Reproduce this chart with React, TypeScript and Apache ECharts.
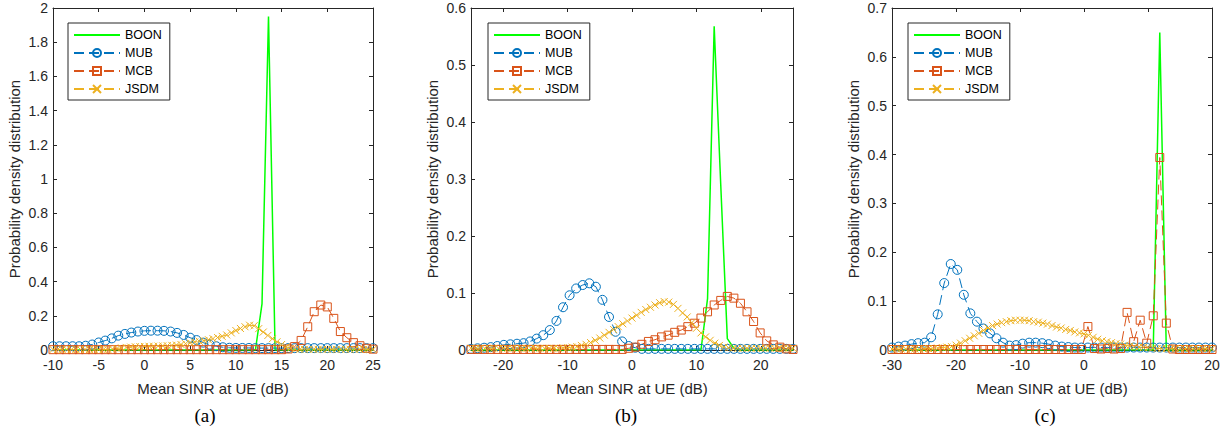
import React, { useEffect, useRef } from "react";
import * as echarts from "echarts";

// ---------- x sample grids ----------
const xA = [-10, -9.29, -8.57, -7.86, -7.14, -6.43, -5.71, -5, -4.29, -3.57, -2.86, -2.14, -1.43, -0.71, 0, 0.71, 1.43, 2.14, 2.86, 3.57, 4.29, 5, 5.71, 6.43, 7.14, 7.86, 8.57, 9.29, 10, 10.71, 11.43, 12.14, 12.86, 13.57, 14.29, 15, 15.71, 16.43, 17.14, 17.86, 18.57, 19.29, 20, 20.71, 21.43, 22.14, 22.86, 23.57, 24.29, 25];
const xA71 = [-10, -9.5, -9, -8.5, -8, -7.5, -7, -6.5, -6, -5.5, -5, -4.5, -4, -3.5, -3, -2.5, -2, -1.5, -1, -0.5, 0, 0.5, 1, 1.5, 2, 2.5, 3, 3.5, 4, 4.5, 5, 5.5, 6, 6.5, 7, 7.5, 8, 8.5, 9, 9.5, 10, 10.5, 11, 11.5, 12, 12.5, 13, 13.5, 14, 14.5, 15, 15.5, 16, 16.5, 17, 17.5, 18, 18.5, 19, 19.5, 20, 20.5, 21, 21.5, 22, 22.5, 23, 23.5, 24, 24.5, 25];
const xB = [-25, -23.98, -22.96, -21.94, -20.92, -19.9, -18.88, -17.86, -16.84, -15.82, -14.8, -13.78, -12.76, -11.73, -10.71, -9.69, -8.67, -7.65, -6.63, -5.61, -4.59, -3.57, -2.55, -1.53, -0.51, 0.51, 1.53, 2.55, 3.57, 4.59, 5.61, 6.63, 7.65, 8.67, 9.69, 10.71, 11.73, 12.76, 13.78, 14.8, 15.82, 16.84, 17.86, 18.88, 19.9, 20.92, 21.94, 22.96, 23.98, 25];
const xB71 = [-25, -24.29, -23.57, -22.86, -22.14, -21.43, -20.71, -20, -19.29, -18.57, -17.86, -17.14, -16.43, -15.71, -15, -14.29, -13.57, -12.86, -12.14, -11.43, -10.71, -10, -9.29, -8.57, -7.86, -7.14, -6.43, -5.71, -5, -4.29, -3.57, -2.86, -2.14, -1.43, -0.71, 0, 0.71, 1.43, 2.14, 2.86, 3.57, 4.29, 5, 5.71, 6.43, 7.14, 7.86, 8.57, 9.29, 10, 10.71, 11.43, 12.14, 12.86, 13.57, 14.29, 15, 15.71, 16.43, 17.14, 17.86, 18.57, 19.29, 20, 20.71, 21.43, 22.14, 22.86, 23.57, 24.29, 25];
const xC = [-30, -28.98, -27.96, -26.94, -25.92, -24.9, -23.88, -22.86, -21.84, -20.82, -19.8, -18.78, -17.76, -16.73, -15.71, -14.69, -13.67, -12.65, -11.63, -10.61, -9.59, -8.57, -7.55, -6.53, -5.51, -4.49, -3.47, -2.45, -1.43, -0.41, 0.61, 1.63, 2.65, 3.67, 4.69, 5.71, 6.73, 7.76, 8.78, 9.8, 10.82, 11.84, 12.86, 13.88, 14.9, 15.92, 16.94, 17.96, 18.98, 20];
const xC71 = [-30, -29.29, -28.57, -27.86, -27.14, -26.43, -25.71, -25, -24.29, -23.57, -22.86, -22.14, -21.43, -20.71, -20, -19.29, -18.57, -17.86, -17.14, -16.43, -15.71, -15, -14.29, -13.57, -12.86, -12.14, -11.43, -10.71, -10, -9.29, -8.57, -7.86, -7.14, -6.43, -5.71, -5, -4.29, -3.57, -2.86, -2.14, -1.43, -0.71, 0, 0.71, 1.43, 2.14, 2.86, 3.57, 4.29, 5, 5.71, 6.43, 7.14, 7.86, 8.57, 9.29, 10, 10.71, 11.43, 12.14, 12.86, 13.57, 14.29, 15, 15.71, 16.43, 17.14, 17.86, 18.57, 19.29, 20];

// ---------- panel (a) ----------
const boonA = [0, 0, 0, 0, 0, 0, 0, 0, 0, 0, 0, 0, 0, 0, 0, 0, 0, 0, 0, 0, 0, 0, 0, 0, 0, 0, 0, 0, 0, 0, 0, 0, 0.27, 1.95, 0, 0, 0, 0, 0, 0, 0, 0, 0, 0, 0, 0, 0, 0, 0, 0];
const mubA = [0.022, 0.022, 0.022, 0.022, 0.022, 0.025, 0.032, 0.044, 0.055, 0.068, 0.084, 0.094, 0.102, 0.108, 0.112, 0.113, 0.113, 0.112, 0.108, 0.1, 0.088, 0.072, 0.058, 0.043, 0.031, 0.022, 0.016, 0.013, 0.012, 0.012, 0.012, 0.011, 0.011, 0.011, 0.011, 0.011, 0.011, 0.011, 0.011, 0.011, 0.011, 0.011, 0.011, 0.011, 0.011, 0.011, 0.011, 0.011, 0.011, 0.011];
const mcbA = [0.002, 0.002, 0.002, 0.002, 0.002, 0.002, 0.002, 0.002, 0.002, 0.002, 0.002, 0.002, 0.002, 0.002, 0.002, 0.002, 0.002, 0.002, 0.002, 0.002, 0.002, 0.002, 0.002, 0.002, 0.002, 0.002, 0.002, 0.002, 0.002, 0.002, 0.002, 0.002, 0.002, 0.002, 0.002, 0.002, 0.006, 0.02, 0.056, 0.136, 0.224, 0.263, 0.252, 0.185, 0.108, 0.072, 0.043, 0.025, 0.01, 0.005];
const jsdmA = [0.003, 0.003, 0.003, 0.003, 0.003, 0.003, 0.003, 0.003, 0.003, 0.003, 0.003, 0.003, 0.003, 0.006, 0.009, 0.012, 0.015, 0.017, 0.019, 0.02, 0.021, 0.022, 0.022, 0.023, 0.024, 0.025, 0.027, 0.029, 0.032, 0.037, 0.042, 0.047, 0.051, 0.055, 0.06, 0.066, 0.073, 0.08, 0.088, 0.1, 0.114, 0.126, 0.136, 0.145, 0.142, 0.125, 0.105, 0.085, 0.066, 0.048, 0.032, 0.019, 0.011, 0.006, 0.004, 0.004, 0.004, 0.004, 0.004, 0.004, 0.004, 0.004, 0.004, 0.004, 0.004, 0.004, 0.004, 0.004, 0.004, 0.004, 0.004];

// ---------- panel (b) ----------
const boonB = [0, 0, 0, 0, 0, 0, 0, 0, 0, 0, 0, 0, 0, 0, 0, 0, 0, 0, 0, 0, 0, 0, 0, 0, 0, 0, 0, 0, 0, 0, 0, 0, 0, 0, 0, 0, 0.09, 0.568, 0.29, 0.02, 0.003, 0, 0, 0, 0, 0, 0, 0, 0, 0];
const mubB = [0.002, 0.003, 0.004, 0.005, 0.007, 0.009, 0.01, 0.011, 0.012, 0.015, 0.02, 0.026, 0.035, 0.051, 0.075, 0.096, 0.108, 0.114, 0.117, 0.111, 0.088, 0.058, 0.032, 0.015, 0.007, 0.004, 0.002, 0.002, 0.002, 0.002, 0.002, 0.002, 0.002, 0.002, 0.002, 0.002, 0.002, 0.002, 0.002, 0.002, 0.002, 0.002, 0.002, 0.002, 0.002, 0.002, 0.002, 0.002, 0.002, 0.002];
const mcbB = [0.001, 0.001, 0.001, 0.001, 0.001, 0.001, 0.001, 0.001, 0.001, 0.001, 0.001, 0.001, 0.001, 0.001, 0.001, 0.001, 0.001, 0.001, 0.001, 0.001, 0.001, 0.001, 0.001, 0.001, 0.003, 0.005, 0.01, 0.015, 0.018, 0.023, 0.026, 0.031, 0.035, 0.041, 0.047, 0.056, 0.067, 0.079, 0.087, 0.094, 0.091, 0.082, 0.067, 0.05, 0.03, 0.016, 0.009, 0.005, 0.002, 0.001];
const jsdmB = [0.003, 0.003, 0.003, 0.003, 0.003, 0.003, 0.003, 0.003, 0.003, 0.003, 0.003, 0.003, 0.003, 0.003, 0.003, 0.003, 0.003, 0.003, 0.003, 0.003, 0.004, 0.004, 0.005, 0.006, 0.008, 0.01, 0.013, 0.017, 0.021, 0.026, 0.031, 0.036, 0.041, 0.046, 0.051, 0.056, 0.061, 0.066, 0.071, 0.075, 0.079, 0.083, 0.085, 0.084, 0.08, 0.073, 0.065, 0.058, 0.048, 0.038, 0.03, 0.023, 0.017, 0.012, 0.008, 0.005, 0.004, 0.003, 0.003, 0.003, 0.003, 0.003, 0.003, 0.003, 0.003, 0.003, 0.003, 0.003, 0.003, 0.003, 0.003];

// ---------- panel (c) ----------
const boonC = [0, 0, 0, 0, 0, 0, 0, 0, 0, 0, 0, 0, 0, 0, 0, 0, 0, 0, 0, 0, 0, 0, 0, 0, 0, 0, 0, 0, 0, 0, 0, 0, 0, 0, 0, 0, 0, 0, 0, 0, 0, 0.65, 0, 0, 0, 0, 0, 0, 0, 0];
const mubC = [0.005, 0.007, 0.009, 0.012, 0.014, 0.015, 0.026, 0.073, 0.137, 0.176, 0.164, 0.113, 0.075, 0.058, 0.044, 0.034, 0.024, 0.015, 0.009, 0.01, 0.013, 0.015, 0.015, 0.014, 0.012, 0.009, 0.007, 0.006, 0.005, 0.005, 0.005, 0.005, 0.005, 0.005, 0.005, 0.005, 0.005, 0.005, 0.005, 0.005, 0.005, 0.005, 0.005, 0.005, 0.005, 0.005, 0.005, 0.005, 0.005, 0.005];
const mcbC = [0.001, 0.001, 0.001, 0.001, 0.001, 0.001, 0.001, 0.001, 0.001, 0.001, 0.001, 0.001, 0.001, 0.001, 0.001, 0.001, 0.001, 0.001, 0.001, 0.001, 0.001, 0.001, 0.001, 0.001, 0.001, 0.001, 0.001, 0.001, 0.001, 0.001, 0.048, 0.003, 0.002, 0.003, 0.002, 0.003, 0.077, 0.017, 0.061, 0.014, 0.07, 0.394, 0.055, 0.002, 0.001, 0.001, 0.001, 0.001, 0.001, 0.001];
const jsdmC = [0.002, 0.002, 0.002, 0.002, 0.002, 0.002, 0.002, 0.003, 0.003, 0.003, 0.004, 0.005, 0.006, 0.007, 0.01, 0.014, 0.019, 0.024, 0.029, 0.034, 0.04, 0.045, 0.05, 0.053, 0.056, 0.058, 0.06, 0.061, 0.061, 0.061, 0.06, 0.058, 0.057, 0.055, 0.053, 0.05, 0.047, 0.045, 0.042, 0.04, 0.037, 0.035, 0.033, 0.03, 0.026, 0.022, 0.019, 0.017, 0.015, 0.013, 0.012, 0.01, 0.008, 0.007, 0.006, 0.005, 0.005, 0.004, 0.003, 0.003, 0.003, 0.003, 0.003, 0.003, 0.003, 0.003, 0.003, 0.003, 0.003, 0.003, 0.003];

// ---------- ticks / labels ----------
const xTicksA = [-10, -5, 0, 5, 10, 15, 20, 25];
const xTicksB = [-20, -10, 0, 10, 20];
const xTicksC = [-30, -20, -10, 0, 10, 20];
const seriesNames = ["BOON", "MUB", "MCB", "JSDM"];
const captions = ["(a)", "(b)", "(c)"];
const xTitle = "Mean SINR at UE (dB)";
const yTitle = "Probability density distribution";

const COLORS: Record<string, string> = {
  BOON: "#00ff00",
  MUB: "#0072bd",
  MCB: "#d95319",
  JSDM: "#edb120",
};
const CIRCLE = "path://M5,0A5,5,0,1,1,5,10A5,5,0,1,1,5,0Z";
const SQUARE = "path://M0,0L10,0L10,10L0,10Z";
const CROSS = "path://M0,0L10,10M10,0L0,10";
const FONT = '"Liberation Sans", Arial, Helvetica, sans-serif';
const AXIS_COLOR = "#262626";

const pairs = (xs: number[], ys: number[]) => xs.map((x, i) => [x, ys[i]]);

const panels = [
  {
    left: 53, width: 320, xMin: -10, xMax: 25, xTicks: xTicksA, yMax: 2, yInterval: 0.2,
    legendLeft: 68, capX: 205, nameGapY: 31,
    boon: [xA, boonA], mub: [xA, mubA], mcb: [xA, mcbA], jsdm: [xA71, jsdmA],
  },
  {
    left: 471, width: 322, xMin: -25, xMax: 25, xTicks: xTicksB, yMax: 0.6, yInterval: 0.1,
    legendLeft: 488, capX: 626, nameGapY: 31,
    boon: [xB, boonB], mub: [xB, mubB], mcb: [xB, mcbB], jsdm: [xB71, jsdmB],
  },
  {
    left: 892, width: 320, xMin: -30, xMax: 20, xTicks: xTicksC, yMax: 0.7, yInterval: 0.1,
    legendLeft: 908, capX: 1045, nameGapY: 31,
    boon: [xC, boonC], mub: [xC, mubC], mcb: [xC, mcbC], jsdm: [xC71, jsdmC],
  },
];

function buildOption() {
  const grid: any[] = [];
  const xAxis: any[] = [];
  const yAxis: any[] = [];
  const lines: any[] = [];
  const marks: any[] = [];
  const legend: any[] = [];
  const graphic: any[] = [];
  const lineStyle = { color: AXIS_COLOR, width: 1 };

  panels.forEach((p, i) => {
    grid.push({ left: p.left, top: 8, width: p.width, height: 342 });
    xAxis.push({
      gridIndex: i, type: "value", position: "bottom", min: p.xMin, max: p.xMax,
      axisLine: { show: true, onZero: false, lineStyle },
      axisTick: { show: true, inside: true, length: 4, customValues: p.xTicks, lineStyle },
      axisLabel: { customValues: p.xTicks, margin: 8, color: AXIS_COLOR, fontSize: 14, fontFamily: FONT },
      splitLine: { show: false },
      name: xTitle, nameLocation: "middle", nameGap: 31,
      nameTextStyle: { fontSize: 15, fontFamily: FONT, color: AXIS_COLOR },
    });
    xAxis.push({
      gridIndex: i, type: "value", position: "top", min: p.xMin, max: p.xMax,
      axisLine: { show: true, onZero: false, lineStyle },
      axisTick: { show: true, inside: true, length: 4, customValues: p.xTicks, lineStyle },
      axisLabel: { show: false, customValues: p.xTicks },
      splitLine: { show: false },
    });
    yAxis.push({
      gridIndex: i, type: "value", position: "left", min: 0, max: p.yMax, interval: p.yInterval,
      axisLine: { show: true, onZero: false, lineStyle },
      axisTick: { show: true, inside: true, length: 4, lineStyle },
      axisLabel: { margin: 5, color: AXIS_COLOR, fontSize: 14, fontFamily: FONT },
      splitLine: { show: false },
      name: yTitle, nameLocation: "middle", nameGap: p.nameGapY, nameRotate: 90,
      nameTextStyle: { fontSize: 15, fontFamily: FONT, color: AXIS_COLOR },
    });
    yAxis.push({
      gridIndex: i, type: "value", position: "right", min: 0, max: p.yMax, interval: p.yInterval,
      axisLine: { show: true, onZero: false, lineStyle },
      axisTick: { show: true, inside: true, length: 4, lineStyle },
      axisLabel: { show: false },
      splitLine: { show: false },
    });

    const xi = 2 * i;
    const yi = 2 * i;
    lines.push({
      type: "line", name: "BOON", xAxisIndex: xi, yAxisIndex: yi,
      data: pairs(p.boon[0], p.boon[1]), symbol: "none",
      itemStyle: { color: "transparent", borderColor: "transparent", borderWidth: 0 },
      lineStyle: { color: COLORS.BOON, width: 1.5 }, silent: true, z: 2,
    });
    const marked = (name: string, d: number[][], symbol: string, size: number) => {
      const data = pairs(d[0], d[1]);
      lines.push({
        type: "line", name, xAxisIndex: xi, yAxisIndex: yi,
        data, symbol, symbolSize: size, showSymbol: false,
        itemStyle: { color: "none", borderColor: COLORS[name], borderWidth: 1 },
        lineStyle: { color: COLORS[name], width: 1, type: [10, 5] }, silent: true, z: 2,
      });
      marks.push({
        type: "scatter", name: name + " markers", xAxisIndex: xi, yAxisIndex: yi,
        data, symbol, symbolSize: size,
        itemStyle: { color: "none", borderColor: COLORS[name], borderWidth: 1, opacity: 1 },
        silent: true, z: 3, emphasis: { disabled: true },
      });
    };
    marked("MUB", p.mub, CIRCLE, 9);
    marked("MCB", p.mcb, SQUARE, 8);
    marked("JSDM", p.jsdm, CROSS, 7);

    legend.push({
      left: p.legendLeft, top: 23, orient: "vertical", data: seriesNames,
      itemWidth: 46, itemHeight: 10, itemGap: 4, padding: [5, 8, 4, 5],
      borderColor: AXIS_COLOR, borderWidth: 1, backgroundColor: "#ffffff",
      textStyle: { fontSize: 12.5, lineHeight: 14, fontFamily: FONT, color: "#000" },
      selectedMode: false,
    });

    graphic.push({
      type: "text", x: p.capX, y: 415,
      style: {
        text: captions[i], font: '19px "Liberation Serif", "Times New Roman", serif',
        fill: "#000", align: "center", verticalAlign: "middle",
      },
    });
  });

  return {
    animation: false, backgroundColor: "#ffffff", grid, xAxis, yAxis,
    series: [...lines, ...marks], legend, graphic,
  };
}

export default function App() {
  const ref = useRef<HTMLDivElement>(null);
  useEffect(() => {
    if (!ref.current) return;
    const chart = echarts.init(ref.current, undefined, { renderer: "svg" });
    chart.setOption(buildOption() as any);
    return () => chart.dispose();
  }, []);
  return (
    <div
      ref={ref}
      style={{ position: "absolute", left: 0, top: 0, width: 1228, height: 433, background: "#fff" }}
    />
  );
}
